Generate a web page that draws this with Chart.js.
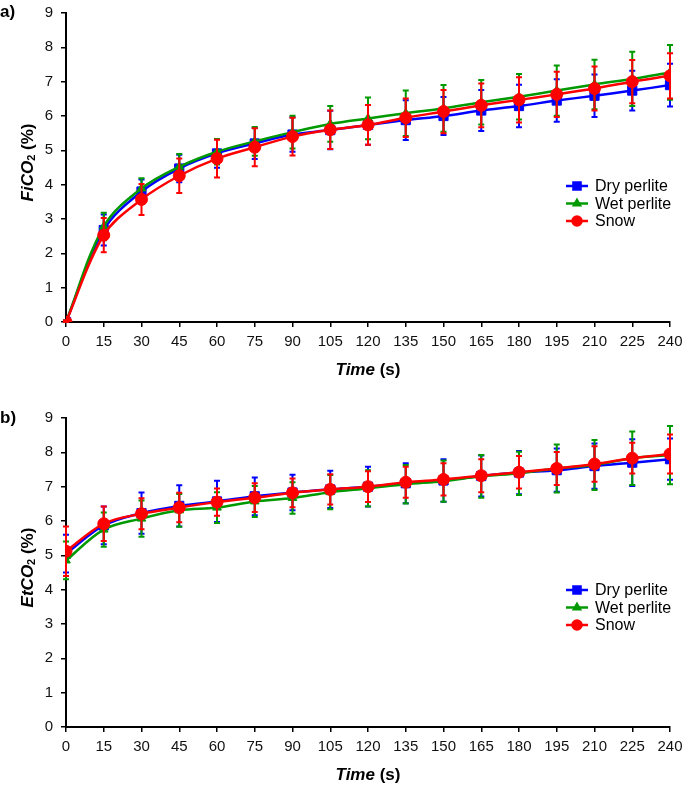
<!DOCTYPE html>
<html lang="en">
<head>
<meta charset="UTF-8">
<title>FiCO2 / EtCO2</title>
<style>
    body { margin: 0; background: #fff; }
    canvas { display: block; }
</style>
</head>
<body>
<canvas id="chartA" width="685" height="393"></canvas>
<canvas id="chartB" width="685" height="394"></canvas>

<script src="https://cdn.jsdelivr.net/npm/chart.js"></script>
<script>
// time points (s)
const times = [0, 15, 30, 45, 60, 75, 90, 105, 120, 135, 150, 165, 180, 195, 210, 225, 240];
const xTicks = times;
const yTicks = [0, 1, 2, 3, 4, 5, 6, 7, 8, 9];
const seriesNames = ['Dry perlite', 'Wet perlite', 'Snow'];

// a) FiCO2 (%)
const fiDry  = [0, 2.68, 3.80, 4.47, 4.91, 5.20, 5.46, 5.59, 5.74, 5.88, 6.00, 6.16, 6.29, 6.45, 6.59, 6.74, 6.90];
const fiWet  = [0, 2.78, 3.89, 4.52, 4.96, 5.26, 5.53, 5.77, 5.93, 6.08, 6.22, 6.40, 6.56, 6.74, 6.92, 7.08, 7.27];
const fiSnow = [0, 2.53, 3.57, 4.26, 4.76, 5.09, 5.40, 5.60, 5.74, 5.95, 6.13, 6.31, 6.47, 6.63, 6.80, 7.00, 7.17];
const fiDryErr  = [0.05, 0.45, 0.35, 0.40, 0.42, 0.45, 0.50, 0.56, 0.58, 0.58, 0.55, 0.60, 0.62, 0.62, 0.62, 0.58, 0.62];
const fiWetErr  = [0.05, 0.40, 0.30, 0.37, 0.37, 0.42, 0.48, 0.52, 0.61, 0.66, 0.68, 0.65, 0.66, 0.73, 0.72, 0.79, 0.80];
const fiSnowErr = [0.05, 0.50, 0.45, 0.50, 0.55, 0.55, 0.55, 0.56, 0.58, 0.56, 0.63, 0.64, 0.66, 0.66, 0.64, 0.63, 0.66];

// b) EtCO2 (%)
const etDry  = [5.05, 5.87, 6.23, 6.44, 6.57, 6.72, 6.83, 6.92, 7.00, 7.10, 7.18, 7.31, 7.41, 7.48, 7.60, 7.70, 7.80];
const etWet  = [4.85, 5.75, 6.07, 6.31, 6.39, 6.57, 6.67, 6.84, 6.95, 7.07, 7.16, 7.30, 7.39, 7.53, 7.63, 7.83, 7.92];
const etSnow = [5.12, 5.92, 6.21, 6.39, 6.55, 6.68, 6.82, 6.92, 7.00, 7.13, 7.21, 7.32, 7.42, 7.53, 7.66, 7.83, 7.95];
const etDryErr  = [0.55, 0.55, 0.60, 0.60, 0.60, 0.55, 0.52, 0.54, 0.58, 0.58, 0.62, 0.60, 0.63, 0.63, 0.66, 0.68, 0.60];
const etWetErr  = [0.55, 0.50, 0.53, 0.48, 0.45, 0.45, 0.46, 0.50, 0.53, 0.56, 0.60, 0.62, 0.63, 0.70, 0.73, 0.78, 0.85];
const etSnowErr = [0.72, 0.50, 0.45, 0.43, 0.40, 0.42, 0.42, 0.44, 0.45, 0.45, 0.47, 0.48, 0.47, 0.48, 0.52, 0.45, 0.57];

const BLUE = '#0000ff', GREEN = '#009a00', RED = '#ff0000';
const FONT = "'Liberation Sans', Arial, sans-serif";

function makeSet(label, vals, errs, color, style, radius, order) {
    return {
        label: label,
        data: times.map((t, i) => ({ x: t, y: vals[i] })),
        err: errs,
        order: order,
        borderColor: color,
        backgroundColor: color,
        borderWidth: 2.5,
        pointStyle: style,
        pointRadius: radius,
        pointBorderWidth: 1,
        tension: 0.35,
        fill: false
    };
}

// vertical error bars with small caps, drawn through the chart's scales
const errorBars = {
    id: 'errorBars',
    beforeDatasetDraw(chart, args) {
        const ds = chart.data.datasets[args.index];
        const ys = chart.scales.y;
        const ctx = chart.ctx;
        ctx.save();
        ctx.strokeStyle = ds.borderColor;
        ctx.lineWidth = 2;
        args.meta.data.forEach((pt, i) => {
            const v = ds.data[i].y, e = ds.err[i];
            const top = ys.getPixelForValue(v + e);
            const bot = ys.getPixelForValue(Math.max(0, v - e));
            ctx.beginPath();
            ctx.moveTo(pt.x, top); ctx.lineTo(pt.x, bot);
            ctx.moveTo(pt.x - 3, top); ctx.lineTo(pt.x + 3, top);
            ctx.moveTo(pt.x - 3, bot); ctx.lineTo(pt.x + 3, bot);
            ctx.stroke();
        });
        ctx.restore();
    }
};

// titles with subscript, panel letter and legend
const decorations = {
    id: 'decorations',
    afterDraw(chart, args, opts) {
        const ctx = chart.ctx;
        const area = chart.chartArea;
        ctx.save();
        ctx.fillStyle = '#000';
        ctx.textBaseline = 'middle';

        // panel letter
        ctx.font = 'bold 17px ' + FONT;
        ctx.textAlign = 'left';
        ctx.fillText(opts.letter, 0, opts.letterY);

        // x title: Time (s)
        const xt1 = 'Time', xt2 = ' (s)';
        ctx.font = 'italic bold 17px ' + FONT;
        const w1 = ctx.measureText(xt1).width;
        ctx.font = 'bold 17px ' + FONT;
        const w2 = ctx.measureText(xt2).width;
        let x0 = (area.left + area.right) / 2 - (w1 + w2) / 2;
        ctx.font = 'italic bold 17px ' + FONT;
        ctx.fillText(xt1, x0, opts.xTitleY);
        ctx.font = 'bold 17px ' + FONT;
        ctx.fillText(xt2, x0 + w1, opts.xTitleY);

        // y title: XxCO2 (%)
        ctx.translate(28, (area.top + area.bottom) / 2 - 5);
        ctx.rotate(-Math.PI / 2);
        const parts = [
            { t: opts.yMain, f: 'italic bold 17px ', dy: 0 },
            { t: '2', f: 'bold 11px ', dy: 4 },
            { t: ' (%)', f: 'bold 17px ', dy: 0 }
        ];
        let total = 0;
        parts.forEach(p => { ctx.font = p.f + FONT; p.w = ctx.measureText(p.t).width; total += p.w; });
        let px = -total / 2;
        parts.forEach(p => { ctx.font = p.f + FONT; ctx.fillText(p.t, px, p.dy); px += p.w; });
        ctx.setTransform(1, 0, 0, 1, 0, 0);

        // legend
        ctx.font = '16px ' + FONT;
        chart.data.datasets.forEach((ds, i) => {
            const y = opts.legendY + i * 17.5;
            ctx.strokeStyle = ds.borderColor;
            ctx.lineWidth = 2.5;
            ctx.beginPath();
            ctx.moveTo(566, y); ctx.lineTo(588, y);
            ctx.stroke();
            Chart.helpers.drawPoint(ctx, {
                pointStyle: ds.pointStyle, radius: ds.pointRadius - 1.5,
                rotation: 0, borderWidth: 1
            }, 577, y);
            ctx.fillStyle = ds.borderColor;
            ctx.fill();
            ctx.fillStyle = '#000';
            ctx.fillText(ds.label, 595, y + 1);
        });
        ctx.restore();
    }
};

function buildChart(id, sets, plotTop, plotBottom, canvasH, deco) {
    const ctx = document.getElementById(id).getContext('2d');
    return new Chart(ctx, {
        type: 'line',
        data: { datasets: sets },
        plugins: [errorBars, decorations],
        options: {
            responsive: false,
            animation: false,
            devicePixelRatio: 1,
            layout: { padding: { left: 0, right: 15, top: plotTop, bottom: 0 } },
            plugins: {
                legend: { display: false },
                tooltip: { enabled: false },
                decorations: deco
            },
            scales: {
                x: {
                    type: 'linear',
                    min: 0, max: 240,
                    afterBuildTicks: s => { s.ticks = xTicks.map(v => ({ value: v })); },
                    afterFit: s => { s.height = canvasH - plotBottom; s.paddingLeft = 0; s.paddingRight = 0; },
                    grid: { drawOnChartArea: false, drawTicks: true, tickLength: 5, color: '#000', lineWidth: 1.5 },
                    border: { display: true, color: '#000', width: 2 },
                    ticks: { color: '#111', padding: 6, maxRotation: 0, autoSkip: false, font: { family: FONT, size: 15 } },
                    title: { display: false }
                },
                y: {
                    min: 0, max: 9,
                    afterBuildTicks: s => { s.ticks = yTicks.map(v => ({ value: v })); },
                    afterFit: s => { s.width = 66; s.paddingTop = 0; s.paddingBottom = 0; },
                    grid: { drawOnChartArea: false, drawTicks: true, tickLength: 5, color: '#000', lineWidth: 1.5 },
                    border: { display: true, color: '#000', width: 2 },
                    ticks: { color: '#111', padding: 8, font: { family: FONT, size: 15 } },
                    title: { display: false }
                }
            }
        }
    });
}

buildChart('chartA', [
    makeSet(seriesNames[0], fiDry, fiDryErr, BLUE, 'rect', 6.5, 2),
    makeSet(seriesNames[1], fiWet, fiWetErr, GREEN, 'triangle', 5, 1),
    makeSet(seriesNames[2], fiSnow, fiSnowErr, RED, 'circle', 6, 0)
], 13, 322, 393, { letter: 'a)', letterY: 12, xTitleY: 370, yMain: 'FiCO', legendY: 186 });

buildChart('chartB', [
    makeSet(seriesNames[0], etDry, etDryErr, BLUE, 'rect', 6.5, 2),
    makeSet(seriesNames[1], etWet, etWetErr, GREEN, 'triangle', 5, 1),
    makeSet(seriesNames[2], etSnow, etSnowErr, RED, 'circle', 6, 0)
], 25, 334, 394, { letter: 'b)', letterY: 25, xTitleY: 382, yMain: 'EtCO', legendY: 197 });
</script>
</body>
</html>
